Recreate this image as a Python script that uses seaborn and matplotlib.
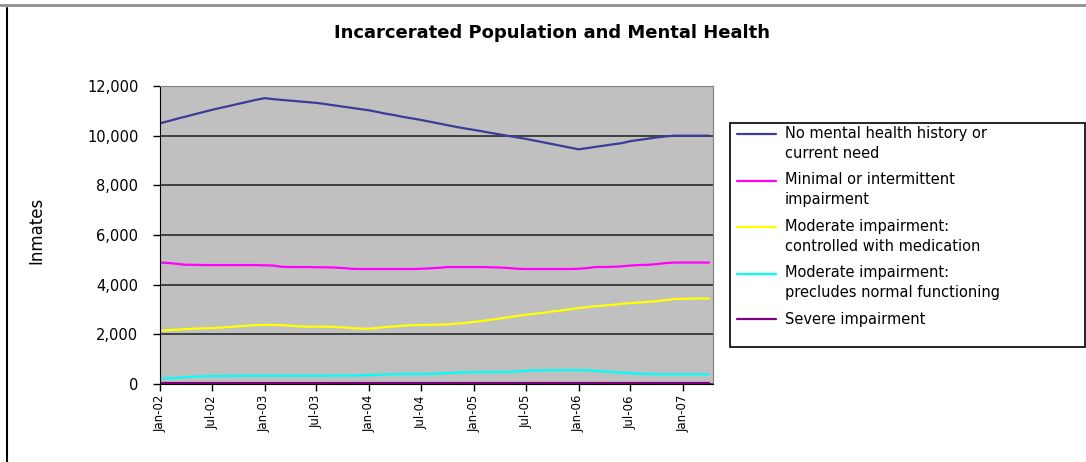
import pandas as pd
import seaborn as sns
import matplotlib.pyplot as plt
from matplotlib.lines import Line2D
from matplotlib.patches import Rectangle
from matplotlib.ticker import FuncFormatter
import matplotlib.dates as mdates

# monthly counts, Jan 2002 .. Apr 2007
months = pd.date_range("2002-01-01", periods=64, freq="MS")

no_history = [10500, 10590, 10680, 10770, 10860, 10950, 11040, 11120, 11200, 11280, 11360, 11440,
              11510, 11470, 11440, 11410, 11380, 11350, 11320, 11270, 11220, 11170, 11120, 11070,
              11020, 10950, 10880, 10820, 10750, 10690, 10630, 10560, 10490, 10420, 10350, 10290,
              10230, 10170, 10110, 10050, 9990, 9930, 9870, 9800, 9730, 9660, 9590, 9520,
              9450, 9500, 9550, 9600, 9650, 9700, 9780, 9830, 9880, 9930, 9970, 10000,
              10000, 10000, 10000, 10000]
minimal = [4890, 4870, 4840, 4800, 4800, 4790, 4790, 4790, 4790, 4790, 4790, 4790,
           4780, 4770, 4720, 4710, 4710, 4710, 4700, 4700, 4690, 4670, 4640, 4630,
           4630, 4630, 4630, 4630, 4630, 4630, 4640, 4660, 4680, 4710, 4710, 4710,
           4710, 4710, 4700, 4690, 4670, 4640, 4630, 4630, 4630, 4630, 4630, 4630,
           4640, 4670, 4710, 4710, 4720, 4740, 4770, 4790, 4800, 4830, 4870, 4890,
           4890, 4890, 4890, 4890]
moderate_med = [2150, 2170, 2190, 2210, 2230, 2240, 2250, 2270, 2300, 2320, 2350, 2370,
                2380, 2380, 2370, 2350, 2320, 2310, 2310, 2310, 2300, 2280, 2250, 2230,
                2230, 2260, 2300, 2320, 2350, 2370, 2380, 2380, 2390, 2400, 2430, 2460,
                2500, 2540, 2590, 2640, 2690, 2740, 2790, 2830, 2870, 2920, 2960, 3010,
                3060, 3100, 3130, 3160, 3190, 3230, 3260, 3280, 3310, 3340, 3380, 3420,
                3430, 3440, 3440, 3440]
moderate_prec = [220, 230, 250, 270, 300, 310, 320, 320, 320, 330, 330, 330,
                 330, 330, 330, 330, 330, 330, 330, 330, 340, 340, 340, 350,
                 360, 370, 390, 390, 400, 400, 400, 410, 420, 440, 460, 470,
                 470, 480, 480, 480, 490, 510, 530, 550, 550, 560, 560, 560,
                 560, 550, 530, 500, 480, 460, 430, 410, 400, 390, 390, 390,
                 390, 390, 390, 390]
severe = [30, 30, 30, 30, 30, 30, 30, 30, 30, 30, 30, 30,
          30, 30, 30, 30, 30, 30, 30, 30, 30, 30, 30, 30,
          30, 30, 30, 30, 30, 30, 30, 30, 30, 30, 30, 30,
          30, 30, 30, 30, 30, 30, 30, 30, 30, 30, 30, 30,
          30, 30, 30, 30, 30, 30, 30, 30, 30, 30, 30, 30,
          30, 30, 30, 30]

labels = ["No mental health history or\ncurrent need",
          "Minimal or intermittent\nimpairment",
          "Moderate impairment:\ncontrolled with medication",
          "Moderate impairment:\nprecludes normal functioning",
          "Severe impairment"]
series = [no_history, minimal, moderate_med, moderate_prec, severe]
colors = ["#3c3c98", "#ff00ff", "#ffff00", "#00ffff", "#800080"]

df = pd.concat([pd.DataFrame({"Month": months, "Inmates": vals, "Category": lab})
                for lab, vals in zip(labels, series)], ignore_index=True)

sns.set_style("white")
plt.rcParams["font.family"] = ["DejaVu Sans"]
plt.rcParams["text.color"] = "black"
plt.rcParams["xtick.color"] = "black"
plt.rcParams["ytick.color"] = "black"
plt.rcParams["axes.labelcolor"] = "black"

W, H = 1086, 462
fig = plt.figure(figsize=(W / 100, H / 100), dpi=100)
ax = fig.add_axes([160 / W, 1 - 384 / H, (713 - 160) / W, (384 - 86) / H])

sns.lineplot(data=df, x="Month", y="Inmates", hue="Category", hue_order=labels,
             palette=dict(zip(labels, colors)), linewidth=1.6, ax=ax)

ax.set_facecolor("#c0c0c0")
ax.set_ylim(0, 12000)
ax.set_yticks(range(0, 12001, 2000))
ax.yaxis.set_major_formatter(FuncFormatter(lambda v, p: f"{int(v):,}"))
ax.set_xlim(months[0], pd.Timestamp("2007-04-15"))
ax.set_xticks(pd.date_range("2002-01-01", "2007-01-01", freq="6MS"))
ax.xaxis.set_major_formatter(mdates.DateFormatter("%b-%y"))
ax.grid(axis="y", color="#404040", linewidth=1.4)
ax.grid(axis="x", visible=False)
ax.set_axisbelow(True)
for s in ["left", "bottom"]:
    ax.spines[s].set_color("black")
for s in ["top", "right"]:
    ax.spines[s].set_color("#808080")
ax.tick_params(axis="both", direction="out", length=5, width=1, color="black",
               left=True, bottom=True)
ax.tick_params(axis="y", labelsize=10.5, pad=10.5)
ax.tick_params(axis="x", labelsize=8.5, labelrotation=90, pad=3)

ax.set_xlabel("")
ax.set_ylabel("Inmates", fontsize=12)
ax.yaxis.set_label_coords(45 / W, 1 - 230 / H, transform=fig.transFigure)

fig.text(552 / W, 1 - 33 / H, "Incarcerated Population and Mental Health",
         ha="center", va="center", fontsize=13, fontweight="bold")

# legend
h, l = ax.get_legend_handles_labels()
ax.get_legend().remove()
leg = fig.legend(h, l, loc="upper left", bbox_to_anchor=(737 / W, 1 - 126 / H),
                 frameon=False, fontsize=10.5, handlelength=2.7, handletextpad=0.6,
                 labelspacing=0.8, borderpad=0, borderaxespad=0)
for t in leg.get_texts():
    t.set_linespacing(1.4)
# line the handle up with the first row of a two-row label
for hl, lab in zip(leg.legend_handles, l):
    if "\n" in lab:
        hl.set_ydata([y + 7.3 for y in hl.get_ydata()])
fig.add_artist(Rectangle((730 / W, 1 - 347 / H), (1085 - 730) / W, (347 - 123) / H,
                         transform=fig.transFigure, fill=False, edgecolor="black",
                         linewidth=1.2))

# outer chart frame
fig.add_artist(Line2D([0, 1], [1 - 5 / H, 1 - 5 / H], transform=fig.transFigure,
                      color="#909090", linewidth=2))
fig.add_artist(Line2D([7 / W, 7 / W], [0, 1 - 8 / H], transform=fig.transFigure,
                      color="black", linewidth=1.5))

fig.savefig("out.png", dpi=100)
